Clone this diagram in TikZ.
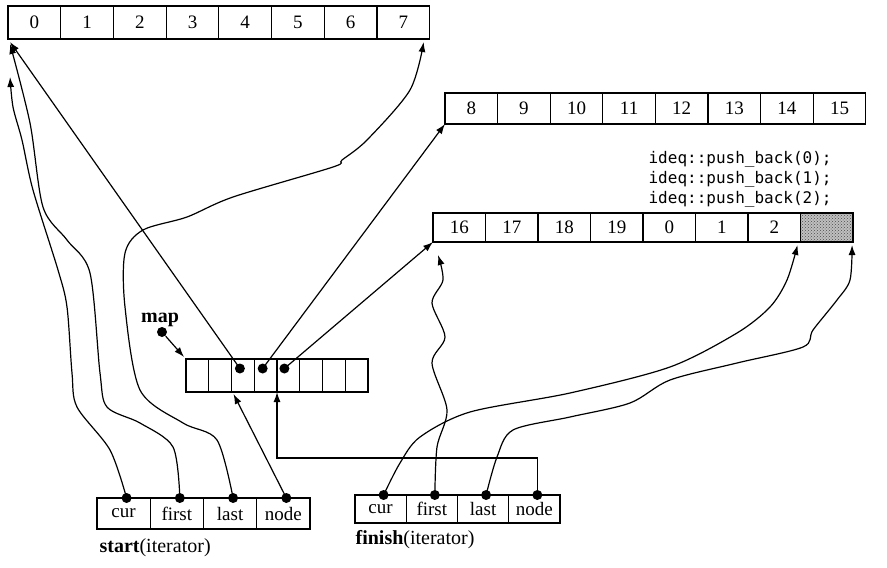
\documentclass[tikz,border=0pt]{standalone}
\usepackage{fontspec}
\setmainfont{Liberation Serif}
\newfontfamily\codefont{DejaVu Sans Mono}
\usetikzlibrary{positioning, arrows.meta, calc, patterns}
\newcommand{\celltxt}{\fontsize{19}{22}\selectfont}
\newcommand{\lbltxt}{\fontsize{20}{23}\selectfont}

\begin{document}
\begin{tikzpicture}[x=1pt, y=-1pt, line width=1.2pt,
  cell/.style={draw, outer sep=0pt, inner sep=0pt, font=\celltxt},
  topc/.style={cell, minimum width=52.7pt, minimum height=33pt},
  midc/.style={cell, minimum width=52.6pt, minimum height=31pt},
  botc/.style={cell, minimum width=52.5pt, minimum height=29pt},
  mapc/.style={cell, minimum width=22.75pt, minimum height=33pt},
  sitc/.style={cell, minimum width=53.25pt, minimum height=31pt},
  fitc/.style={cell, minimum width=51.25pt, minimum height=28pt},
  dot/.style={circle, fill, inner sep=0pt, minimum size=10pt},
  arr/.style={-{Latex[length=10pt, width=7pt]}}]
\useasboundingbox (0,0) rectangle (887,568);
% top buffer
\node[topc] (a0) at (34.4,22.5) {0};
\node[topc, right=0pt of a0] (a1) {1}; \node[topc, right=0pt of a1] (a2) {2};
\node[topc, right=0pt of a2] (a3) {3}; \node[topc, right=0pt of a3] (a4) {4};
\node[topc, right=0pt of a4] (a5) {5}; \node[topc, right=0pt of a5] (a6) {6};
\node[topc, right=0pt of a6] (a7) {7};
% middle buffer
\node[midc] (b0) at (471.3,108.5) {8};
\node[midc, right=0pt of b0] (b1) {9}; \node[midc, right=0pt of b1] (b2) {10};
\node[midc, right=0pt of b2] (b3) {11}; \node[midc, right=0pt of b3] (b4) {12};
\node[midc, right=0pt of b4] (b5) {13}; \node[midc, right=0pt of b5] (b6) {14};
\node[midc, right=0pt of b6] (b7) {15};
% bottom buffer
\node[botc] (c0) at (459.3,227.5) {16};
\node[botc, right=0pt of c0] (c1) {17}; \node[botc, right=0pt of c1] (c2) {18};
\node[botc, right=0pt of c2] (c3) {19}; \node[botc, right=0pt of c3] (c4) {0};
\node[botc, right=0pt of c4] (c5) {1}; \node[botc, right=0pt of c5] (c6) {2};
\node[botc, right=0pt of c6, preaction={fill=gray!50}, pattern=crosshatch dots, pattern color=black!70] (c7) {};
\node[font=\codefont\fontsize{16}{20}\selectfont, align=left, anchor=north west, inner sep=0pt] (code) at (648,151) {ideq::push\_back(0);\\ideq::push\_back(1);\\ideq::push\_back(2);};
% map
\node[mapc] (mp0) at (197.4,375.5) {};
\node[mapc, right=0pt of mp0] (mp1) {}; \node[mapc, right=0pt of mp1] (mp2) {};
\node[mapc, right=0pt of mp2] (mp3) {}; \node[mapc, right=0pt of mp3] (mp4) {};
\node[mapc, right=0pt of mp4] (mp5) {}; \node[mapc, right=0pt of mp5] (mp6) {};
\node[mapc, right=0pt of mp6] (mp7) {};
\node[dot] (pm2) at ([xshift=-3pt, yshift=7pt]mp2.center) {};
\node[dot] (pm3) at ([xshift=-3pt, yshift=7pt]mp3.center) {};
\node[dot] (pm4) at ([xshift=-4pt, yshift=7pt]mp4.center) {};
\node[dot] (mapd) at (162,332) {};
\node[font=\lbltxt\bfseries, inner sep=0pt] (maplbl) at (160,320) {map};
% iterators
\node[sitc] (scur) at (123.6,513.5) {cur};
\node[sitc, right=0pt of scur] (sfirst) {first}; \node[sitc, right=0pt of sfirst] (slast) {last};
\node[sitc, right=0pt of slast] (snode) {node};
\node[fitc] (fcur) at (380.6,509) {cur};
\node[fitc, right=0pt of fcur] (ffirst) {first}; \node[fitc, right=0pt of ffirst] (flast) {last};
\node[fitc, right=0pt of flast] (fnode) {node};
\node[anchor=west, font=\lbltxt, inner sep=0pt] (slbl) at (99,548) {\textbf{start}(iterator)};
\node[anchor=west, font=\lbltxt, inner sep=0pt] (flbl) at (355,540) {\textbf{finish}(iterator)};
\foreach \n in {scur, sfirst, slast, snode, fcur, ffirst, flast, fnode} \node[dot] (\n d) at ([xshift=3pt]\n.north) {};
% map pointers
\draw[arr] (mapd) -- ([shift={(-2,-2)}]mp0.north west);
\draw[arr] (pm2.center) -- ([shift={(2,3)}]a0.south west);
\draw[arr] (pm3.center) -- (b0.south west);
\draw[arr] (pm4.center) -- (c0.south west);
\draw[arr] (snoded.center) -- ([shift={(2,2)}]mp2.south west);
\draw[arr] (fnoded.center) -- (fnoded |- 0,458) -| (mp4.south west);
% start curves
\draw[arr] plot[smooth] coordinates {(scurd.center) (110,450) (77,407) (72,373) (67,307) (58,270) (33,190) (22,140) (13,107) ($(a0.south west)+(2,38)$)};
\draw[arr] plot[smooth] coordinates {(sfirstd.center) (173,447) (140,423) (107,407) (100,373) (90,273) (67,240) (43,207) (30,123) ($(a0.south west)+(2,5)$)};
\draw[arr] plot[smooth] coordinates {(slastd.center) (217,440) (183,423) (140,390) (125,307) (125,253) (143,230) (187,217) (233,197) (333,167) (342,160) (367,140) (410,90) ($(a7.south east)+(-6,3)$)};
% finish curves
\draw[arr] plot[smooth] coordinates {(fcurd.center) (400,463) (420,437) (470,412) (570,393) (670,367) (737,333) (770,307) (787,280) ($(c6.south east)+(-3,3)$)};
\draw[arr] plot[smooth] coordinates {(ffirstd.center) (437,447) (447,410) (432,363) (445,337) (432,303) (443,280) ($(c0.south west)+(5,13)$)};
\draw[arr] plot[smooth] coordinates {(flastd.center) (497,457) (513,430) (570,417) (630,403) (670,380) (737,363) (803,347) (813,330) (837,300) (850,280) ($(c7.south east)+(-1,3)$)};
\end{tikzpicture}
\end{document}
